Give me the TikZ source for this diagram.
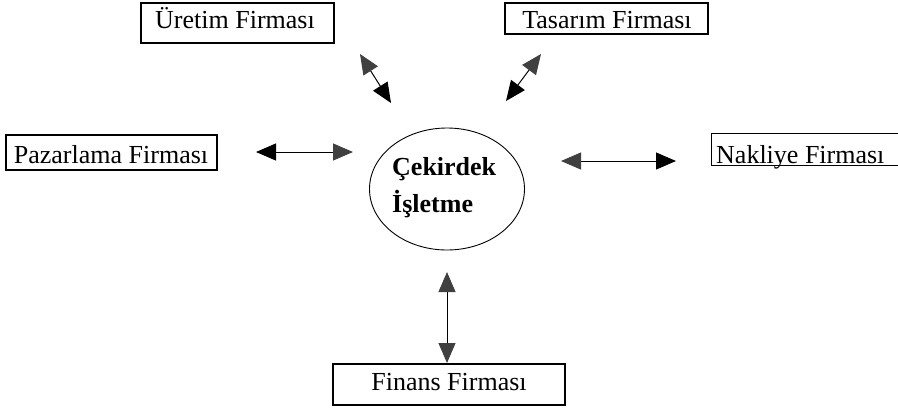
\documentclass[tikz,border=0pt]{standalone}
\usepackage{fontspec}
\setmainfont{Liberation Serif}
\usetikzlibrary{arrows.meta,shapes.geometric}
\tikzset{
  gtip/.tip={Triangle[length=20pt,width=17pt,fill=black!75,color=black!75]},
  btip/.tip={Triangle[length=20pt,width=17pt]}}
\begin{document}
\begin{tikzpicture}[x=1pt,y=-1pt,
  boxst/.style={draw, line width=1.2pt, inner sep=0pt},
  lbl/.style={inner sep=0pt, font=\fontsize{26}{30}\selectfont},
  link/.style={line width=1pt}]
\useasboundingbox (0,0) rectangle (898,408);
% boxes
\node[boxst, minimum width=193pt, minimum height=40pt] (uretim) at (237.5,23) {};
\node[lbl, anchor=base] (uretimT) at (235,28) {Üretim Firması};
\node[boxst, minimum width=203pt, minimum height=31pt] (tasarim) at (606.5,18.5) {};
\node[lbl, anchor=base] (tasarimT) at (607,28) {Tasarım Firması};
\node[boxst, minimum width=211pt, minimum height=35pt] (pazarlama) at (111.5,152.5) {};
\node[lbl, anchor=base] (pazarlamaT) at (111,163) {Pazarlama Firması};
\node[inner sep=0pt, minimum width=186pt, minimum height=31pt] (nakliye) at (805,149.5) {};
\draw[line width=1.2pt] (nakliye.north east) -- (nakliye.north west) -- (nakliye.south west) -- (nakliye.south east);
\node[lbl, anchor=base west] (nakliyeT) at (716,163) {Nakliye Firması};
\node[boxst, minimum width=232pt, minimum height=41pt] (finans) at (449,384.5) {};
\node[lbl, anchor=base] (finansT) at (449,390) {Finans Firması};
% core
\node[draw, ellipse, line width=0.9pt, minimum width=155pt, minimum height=122pt, inner sep=0pt] (core) at (447,189) {};
\node[inner sep=0pt, anchor=base west, align=left, font=\fontsize{26}{37}\bfseries\selectfont] (coreT) at (392,212) {Çekirdek\\İşletme};
% arrow end points
\coordinate (u1) at (360,54);  \coordinate (u2) at (391,103);
\coordinate (t1) at (541,54);  \coordinate (t2) at (506,101);
\coordinate (p1) at (256,152); \coordinate (p2) at (353,152);
\coordinate (n1) at (561,161); \coordinate (n2) at (676,161);
\coordinate (f1) at (447,272); \coordinate (f2) at (447,363);
\draw[link, gtip-btip] (u1) -- (u2);
\draw[link, gtip-btip] (t1) -- (t2);
\draw[link, btip-gtip] (p1) -- (p2);
\draw[link, gtip-btip] (n1) -- (n2);
\draw[link, gtip-gtip] (f1) -- (f2);
\end{tikzpicture}
\end{document}
